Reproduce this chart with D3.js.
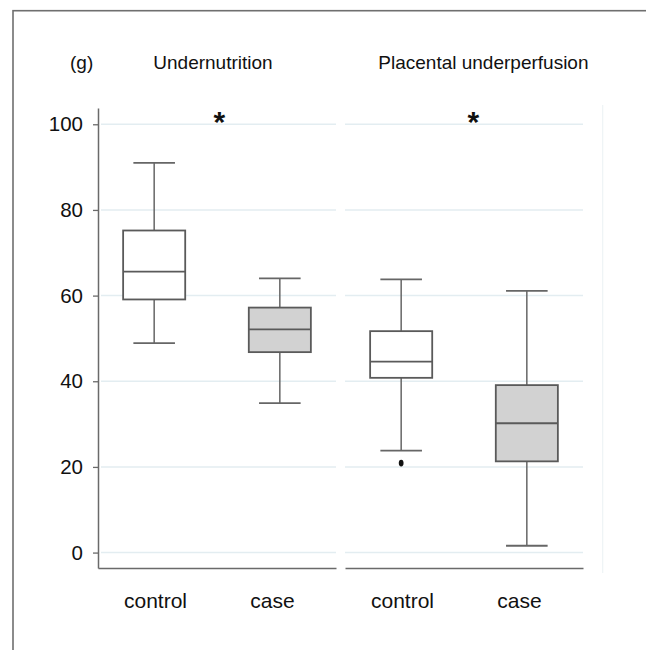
<!DOCTYPE html>
<html>
<head>
<meta charset="utf-8">
<script src="https://cdn.jsdelivr.net/npm/d3@7"></script>
<style>
  html, body { margin: 0; padding: 0; background: #fff; }
  svg { display: block; }
  text { font-family: "Liberation Sans", Arial, Helvetica, sans-serif; fill: #111; }
</style>
</head>
<body>
<svg id="chart" width="646" height="650"></svg>
<script>
// Box plots of weight (g) for two study groups
const panels = ["Undernutrition", "Placental underperfusion"];
const groups = ["control", "case"];
const yTicks = [0, 20, 40, 60, 80, 100];

// five-number summaries per panel: [control, case]
const whiskerLow  = [[48.9, 34.9], [23.8, 1.6]];
const boxLow      = [[59.1, 46.8], [40.8, 21.3]];
const medians     = [[65.6, 52.1], [44.6, 30.2]];
const boxHigh     = [[75.2, 57.2], [51.7, 39.1]];
const whiskerHigh = [[91.0, 64.0], [63.8, 61.1]];
// outliers per panel: [control, case]
const outliers    = [[[], []], [[20.9], []]];
// significance marks per panel
const signif = ["*", "*"];

const svg = d3.select("#chart");

// outer frame
svg.append("rect")
  .attr("x", 13).attr("y", 10.7)
  .attr("width", 660).attr("height", 660)
  .attr("fill", "none").attr("stroke", "#6f6f6f").attr("stroke-width", 1.6);

const y = d3.scaleLinear().domain([-3.6, 103.8]).range([568, 108]);
const panelX = d3.scaleOrdinal().domain(panels).range([98, 345]);
const panelW = 238;
const x = d3.scaleBand().domain(groups).range([0, panelW])
  .paddingInner(0.506).paddingOuter(0.2);
const xLabel = d3.scalePoint().domain(groups).range([0, panelW])
  .padding(0.517).align(0.471);

// faint right-hand edge of the plot region
svg.append("line")
  .attr("x1", 602.7).attr("x2", 602.7).attr("y1", 105).attr("y2", 573)
  .attr("stroke", "#eef3f5").attr("stroke-width", 1.2);

// y axis
const yAxis = svg.append("g")
  .attr("transform", "translate(98,0)")
  .call(d3.axisLeft(y).tickValues(yTicks).tickSize(5).tickSizeOuter(0).tickPadding(10));
yAxis.select(".domain").attr("stroke", "#6a6a6a").attr("stroke-width", 1.5);
yAxis.selectAll(".tick line").attr("stroke", "#6a6a6a").attr("stroke-width", 1.3);
yAxis.selectAll(".tick text")
  .attr("font-size", 20.5).attr("fill", "#111")
  .style("font-family", "'Liberation Sans', Arial, sans-serif");

// unit label
svg.append("text").attr("x", 70).attr("y", 69).attr("font-size", 19).text("(g)");

const titleX = [153.3, 378.3];
const starX = [219.3, 473.3];

panels.forEach((p, pi) => {
  const g = svg.append("g").attr("transform", `translate(${panelX(p)},0)`);
  const gx0 = pi === 0 ? 3 : 0;

  // gridlines
  g.selectAll("line.grid").data(yTicks).join("line")
    .attr("class", "grid")
    .attr("x1", gx0).attr("x2", panelW)
    .attr("y1", d => y(d)).attr("y2", d => y(d))
    .attr("stroke", "#e3edf1").attr("stroke-width", 1.5);

  // x axis with group labels
  const xa = g.append("g").attr("transform", `translate(0,${y(-3.6)})`)
    .call(d3.axisBottom(xLabel).tickSize(0).tickSizeOuter(0).tickPadding(25));
  xa.select(".domain").attr("stroke", "#6a6a6a").attr("stroke-width", 1.6);
  xa.selectAll(".tick text")
    .attr("font-size", 21).attr("fill", "#111")
    .style("font-family", "'Liberation Sans', Arial, sans-serif");

  // panel title
  svg.append("text").attr("x", titleX[pi]).attr("y", 69)
    .attr("font-size", 19).text(p);

  // significance star
  svg.append("text")
    .attr("x", starX[pi]).attr("y", 132)
    .attr("text-anchor", "middle")
    .attr("font-size", 30).attr("font-weight", "bold")
    .text(signif[pi]);

  groups.forEach((grp, gi) => {
    const cx = x(grp) + x.bandwidth() / 2;
    const bw = x.bandwidth();
    const cap = bw * 0.67;
    const fill = grp === "case" ? "#d2d2d2" : "#ffffff";
    const bg = g.append("g");

    // whiskers
    bg.append("line").attr("x1", cx).attr("x2", cx)
      .attr("y1", y(whiskerHigh[pi][gi])).attr("y2", y(boxHigh[pi][gi]))
      .attr("stroke", "#666").attr("stroke-width", 1.5);
    bg.append("line").attr("x1", cx).attr("x2", cx)
      .attr("y1", y(boxLow[pi][gi])).attr("y2", y(whiskerLow[pi][gi]))
      .attr("stroke", "#666").attr("stroke-width", 1.5);
    [whiskerHigh[pi][gi], whiskerLow[pi][gi]].forEach(v => {
      bg.append("line").attr("x1", cx - cap / 2).attr("x2", cx + cap / 2)
        .attr("y1", y(v)).attr("y2", y(v))
        .attr("stroke", "#666").attr("stroke-width", 1.8);
    });

    // box
    bg.append("rect")
      .attr("x", x(grp)).attr("width", bw)
      .attr("y", y(boxHigh[pi][gi]))
      .attr("height", y(boxLow[pi][gi]) - y(boxHigh[pi][gi]))
      .attr("fill", fill).attr("stroke", "#5a5a5a").attr("stroke-width", 1.8);

    // median
    bg.append("line").attr("x1", x(grp)).attr("x2", x(grp) + bw)
      .attr("y1", y(medians[pi][gi])).attr("y2", y(medians[pi][gi]))
      .attr("stroke", "#5a5a5a").attr("stroke-width", 1.8);

    // outliers
    bg.selectAll("ellipse").data(outliers[pi][gi]).join("ellipse")
      .attr("cx", cx).attr("cy", d => y(d))
      .attr("rx", 2.4).attr("ry", 3.4).attr("fill", "#111");
  });
});
</script>
</body>
</html>
